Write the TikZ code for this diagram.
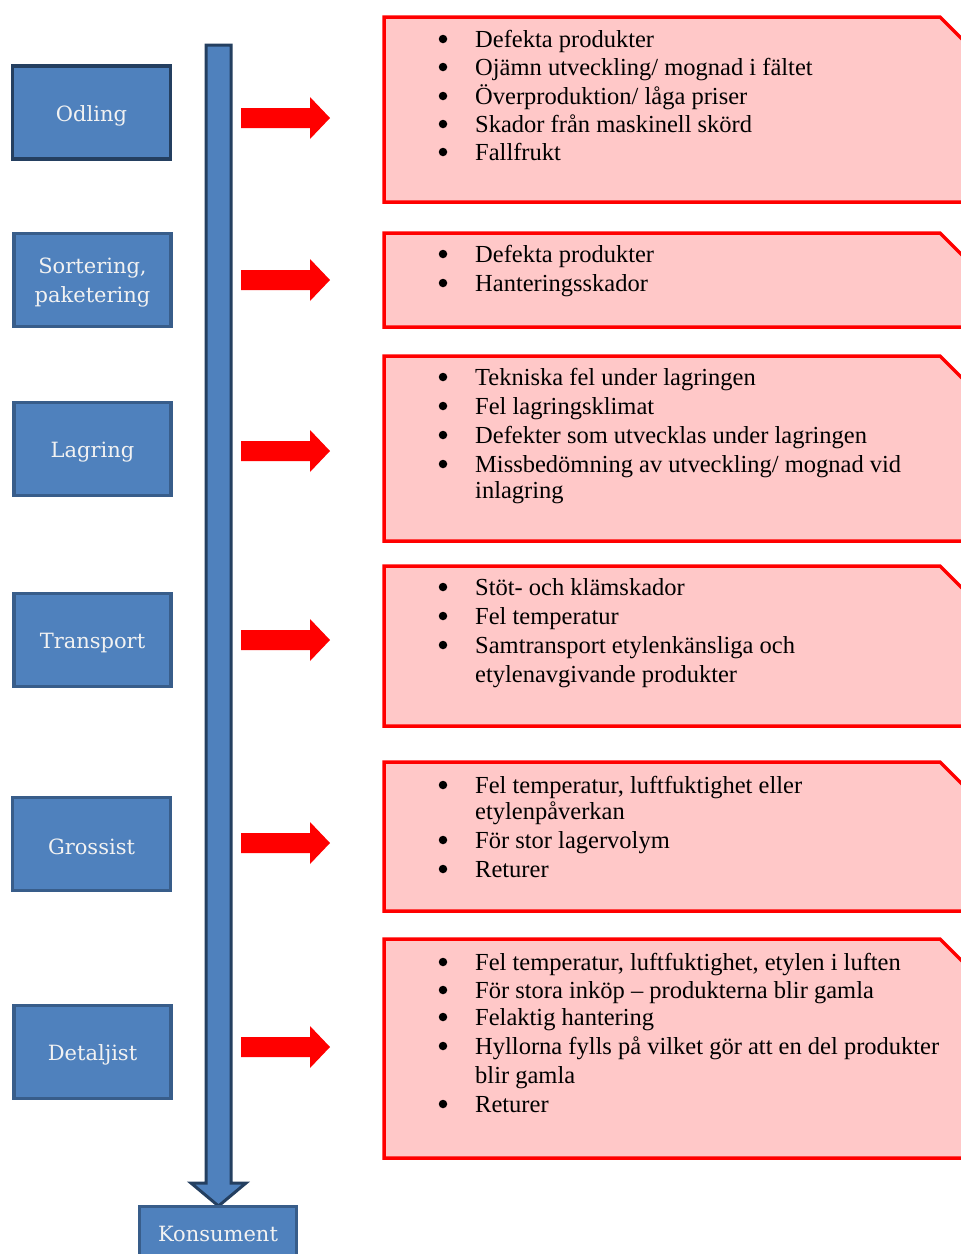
\documentclass[tikz,border=0pt]{standalone}
\usepackage{fontspec}
\setmainfont{Liberation Serif}
\newfontfamily\labfont{DejaVu Serif}
\definecolor{bfill}{HTML}{4F81BD}
\definecolor{bdark}{HTML}{243F60}
\definecolor{bmid}{HTML}{385D8A}
\definecolor{pfill}{HTML}{FFC8C8}
\definecolor{lab}{HTML}{F2F2F2}
\tikzset{
  stage/.style={draw=bmid, line width=3.5pt, fill=bfill, minimum width=157pt, minimum height=93pt, inner sep=0pt},
  labtxt/.style={inner sep=0pt, align=center, text=lab, font=\labfont\fontsize{21}{29}\selectfont},
  pinkbox/.style={draw=red, line width=3.5pt, fill=pfill},
  itemtxt/.style={anchor=base west, inner sep=0pt, font=\fontsize{24.5}{28}\selectfont},
  bul/.style={circle, fill=black, inner sep=0pt, minimum size=8.5pt},
  redarrow/.style={fill=red, draw=none},
}
\newcommand\stagelab[3]{\node[labtxt] (#1) at ([yshift=-3pt]#2.center) {#3};}
\newcommand\bitem[3]{\node[bul] (b#1) at (443,#2-8) {}; \node[itemtxt] (t#1) at (475,#2) {#3};}
\newcommand\citem[3]{\node[itemtxt] (t#1) at (475,#2) {#3};}
\newcommand\pbox[3]{\draw[pinkbox] (384,#2) -- (940,#2) -- (990,#2+50) |- (384,#3) -- cycle; \coordinate (#1) at (384,#2);}
\newcommand\rarrow[2]{\coordinate (#1) at (241,#2); \fill[redarrow] (241,#2-10) -- (310,#2-10) -- (310,#2-21) -- (330,#2) -- (310,#2+21) -- (310,#2+10) -- (241,#2+10) -- cycle;}
\begin{document}
\begin{tikzpicture}[x=1pt,y=-1pt]
\useasboundingbox (0,0) rectangle (961,1254);
\clip (0,0) rectangle (961,1254);
% vertical arrow
\draw[draw=bdark, line width=3pt, fill=bfill, line join=miter] (206,45) -- (231,45) -- (231,1183) -- (246,1183) -- (218.5,1206) -- (191,1183) -- (206,1183) -- cycle;
% stage boxes
\node[stage, draw=bdark, minimum width=158pt] (odling) at (91.5,112.5) {};
\node[stage] (sort) at (92.5,280) {};
\node[stage] (lagring) at (92.5,449) {};
\node[stage] (transport) at (92.5,640) {};
\node[stage, minimum width=158pt] (grossist) at (91.5,844) {};
\node[stage] (detaljist) at (92.5,1052) {};
\node[stage, line width=3pt, minimum width=157pt, minimum height=80pt] (konsument) at (217.5,1246) {};
\stagelab{odlinglab}{odling}{Odling}
\stagelab{sortlab}{sort}{Sortering,\\paketering}
\stagelab{lagringlab}{lagring}{Lagring}
\stagelab{transportlab}{transport}{Transport}
\stagelab{grossistlab}{grossist}{Grossist}
\stagelab{detaljistlab}{detaljist}{Detaljist}
\node[labtxt] (konsumentlab) at (218,1234) {Konsument};
% red arrows
\rarrow{a1}{118}
\rarrow{a2}{280}
\rarrow{a3}{451}
\rarrow{a4}{640}
\rarrow{a5}{843}
\rarrow{a6}{1047}
% pink boxes
\pbox{p1}{17}{202}
\pbox{p2}{233}{327}
\pbox{p3}{356}{541}
\pbox{p4}{566}{726}
\pbox{p5}{762}{911}
\pbox{p6}{939}{1158}
% texts
\bitem{11}{47}{Defekta produkter}
\bitem{12}{75}{Ojämn utveckling/ mognad i fältet}
\bitem{13}{104}{Överproduktion/ låga priser}
\bitem{14}{132}{Skador från maskinell skörd}
\bitem{15}{160}{Fallfrukt}
\bitem{21}{262}{Defekta produkter}
\bitem{22}{291}{Hanteringsskador}
\bitem{31}{385}{Tekniska fel under lagringen}
\bitem{32}{414}{Fel lagringsklimat}
\bitem{33}{443}{Defekter som utvecklas under lagringen}
\bitem{34}{472}{Missbedömning av utveckling/ mognad vid}
\citem{35}{498}{inlagring}
\bitem{41}{595}{Stöt- och klämskador}
\bitem{42}{624}{Fel temperatur}
\bitem{43}{653}{Samtransport etylenkänsliga och}
\citem{44}{682}{etylenavgivande produkter}
\bitem{51}{793}{Fel temperatur, luftfuktighet eller}
\citem{52}{819}{etylenpåverkan}
\bitem{53}{848}{För stor lagervolym}
\bitem{54}{877}{Returer}
\bitem{61}{970}{Fel temperatur, luftfuktighet, etylen i luften}
\bitem{62}{998}{För stora inköp – produkterna blir gamla}
\bitem{63}{1025}{Felaktig hantering}
\bitem{64}{1054}{Hyllorna fylls på vilket gör att en del produkter}
\citem{65}{1083}{blir gamla}
\bitem{66}{1112}{Returer}
\end{tikzpicture}
\end{document}
